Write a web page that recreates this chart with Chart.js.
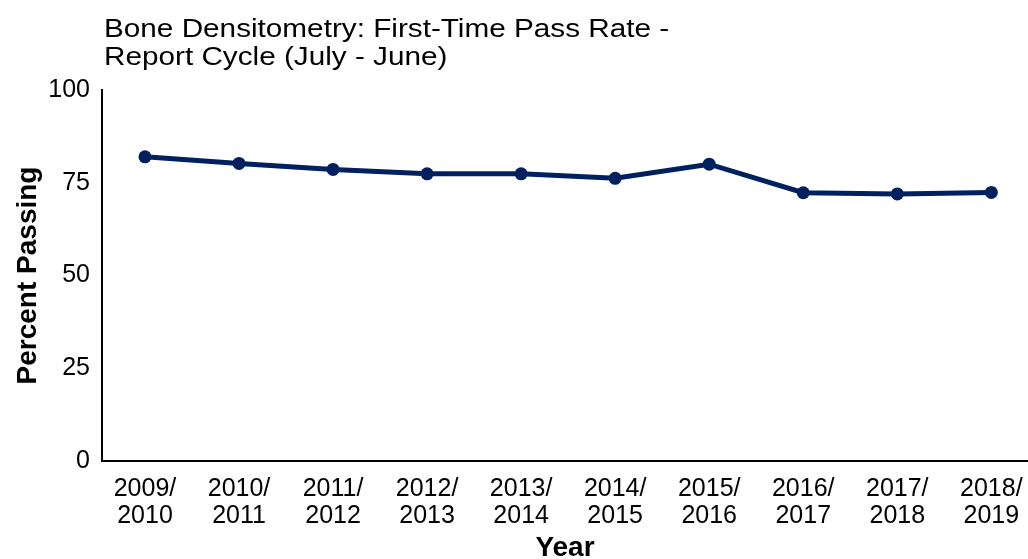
<!DOCTYPE html>
<html>
<head>
<meta charset="utf-8">
<script src="https://cdn.jsdelivr.net/npm/chart.js@4.4.1/dist/chart.umd.min.js"></script>
<style>
html,body{margin:0;padding:0;background:#fff;}
#wrap{width:1028px;height:559px;position:relative;}
</style>
</head>
<body>
<div id="wrap"><canvas id="c" width="1028" height="559"></canvas></div>
<script>
const titleLines = ["Bone Densitometry: First-Time Pass Rate -", "Report Cycle (July - June)"];
const categories = [["2009/","2010"],["2010/","2011"],["2011/","2012"],["2012/","2013"],["2013/","2014"],["2014/","2015"],["2015/","2016"],["2016/","2017"],["2017/","2018"],["2018/","2019"]];
const passRate = [82.0, 80.2, 78.6, 77.4, 77.4, 76.2, 80.0, 72.3, 72.0, 72.4];
const yTicks = [0, 25, 50, 75, 100];
const xTitle = "Year";
const yTitle = "Percent Passing";

const FONT = "'Liberation Sans', Arial, sans-serif";

const titlePlugin = {
  id: 'leftTitle',
  afterDraw(chart) {
    const ctx = chart.ctx;
    ctx.save();
    ctx.fillStyle = '#000';
    ctx.font = "25.5px " + FONT;
    ctx.textBaseline = 'alphabetic';
    ctx.textAlign = 'left';
    ctx.translate(104, 0);
    ctx.scale(1.165, 1);
    ctx.fillText(titleLines[0], 0, 37);
    ctx.fillText(titleLines[1], 0, 65);
    ctx.restore();
  }
};

new Chart(document.getElementById('c'), {
  type: 'line',
  data: {
    datasets: [{
      data: passRate.map((v, i) => ({x: i, y: v})),
      borderColor: '#002060',
      backgroundColor: '#002060',
      borderWidth: 5,
      pointRadius: 6.5,
      pointHoverRadius: 6.5,
      pointBackgroundColor: '#002060',
      pointBorderColor: '#002060',
      pointBorderWidth: 0,
      tension: 0,
      fill: false,
      clip: false
    }]
  },
  options: {
    responsive: false,
    animation: false,
    layout: {autoPadding: false, padding: {top: 90, left: 0, right: 0, bottom: 0}},
    plugins: {legend: {display: false}, tooltip: {enabled: false}, title: {display: false}},
    scales: {
      x: {
        type: 'linear',
        min: -0.457,
        max: 9.39,
        afterBuildTicks: (axis) => { axis.ticks = categories.map((_, i) => ({value: i})); },
        afterFit: (scale) => { scale.height = 98; scale.paddingRight = 0; scale.paddingLeft = 0; },
        grid: {display: false, drawTicks: false},
        border: {display: true, color: '#000', width: 2},
        ticks: {
          autoSkip: false,
          maxRotation: 0,
          padding: 15,
          color: '#000',
          font: {family: FONT, size: 25, lineHeight: 1.07},
          callback: (v) => categories[v]
        },
        title: {display: true, text: xTitle, color: '#000', font: {family: FONT, size: 28, weight: 'bold', lineHeight: 1}, padding: {top: 0, bottom: -3}}
      },
      y: {
        min: 0,
        max: 100,
        afterBuildTicks: (axis) => { axis.ticks = yTicks.map(v => ({value: v})); },
        afterFit: (scale) => { scale.width = 102; },
        grid: {display: false, drawTicks: false},
        border: {display: true, color: '#000', width: 2},
        ticks: {
          padding: 12,
          color: '#000',
          font: {family: FONT, size: 25}
        },
        title: {display: true, text: yTitle, color: '#000', font: {family: FONT, size: 28, weight: 'bold', lineHeight: 1}, padding: {top: 14, bottom: 0}}
      }
    }
  },
  plugins: [titlePlugin]
});
</script>
</body>
</html>
